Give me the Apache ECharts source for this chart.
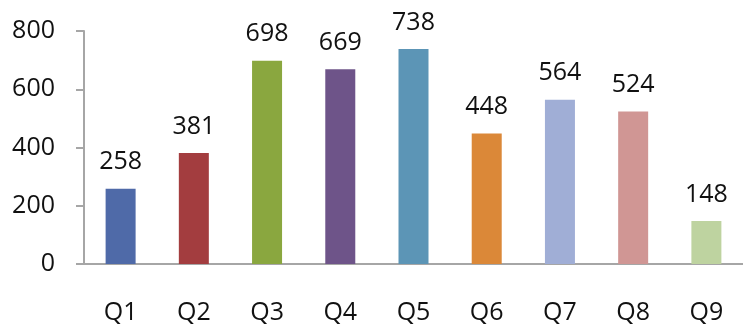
<!DOCTYPE html>
<html>
<head>
<meta charset="utf-8">
<script src="https://cdn.jsdelivr.net/npm/echarts@6/dist/echarts.min.js"></script>
<style>
  html, body { margin: 0; padding: 0; background: #fff; }
  #main { width: 743px; height: 327px; }
</style>
</head>
<body>
<div id="main"></div>
<script>
var categories = ['Q1', 'Q2', 'Q3', 'Q4', 'Q5', 'Q6', 'Q7', 'Q8', 'Q9'];
var values = [258, 381, 698, 669, 738, 448, 564, 524, 148];
var barColors = ['#4f6aa8', '#a33d3f', '#8aa73f', '#6e5489', '#5c95b6', '#db8838', '#a0aed6', '#d09694', '#bed3a0'];
var yTicks = [0, 200, 400, 600, 800];

var font = '"Open Sans", sans-serif';
var chart = echarts.init(document.getElementById('main'));
chart.setOption({
    animation: false,
    grid: { left: 84, right: -5, top: 31, bottom: 63 },
    xAxis: {
        type: 'category',
        data: categories,
        axisLine: { lineStyle: { color: '#a6a6a6', width: 2 } },
        axisTick: { length: 8, lineStyle: { color: '#a6a6a6', width: 2 } },
        axisLabel: { margin: 36, fontSize: 25, color: '#111', fontFamily: font }
    },
    yAxis: {
        type: 'value',
        min: yTicks[0],
        max: yTicks[yTicks.length - 1],
        interval: 200,
        splitLine: { show: false },
        axisLine: { show: true, lineStyle: { color: '#a6a6a6', width: 2 } },
        axisTick: { show: true, length: 8, lineStyle: { color: '#a6a6a6', width: 2 } },
        axisLabel: { margin: 29, fontSize: 25, color: '#111', fontFamily: font }
    },
    series: [{
        type: 'bar',
        barWidth: 30,
        data: values.map(function (v, i) {
            return { value: v, itemStyle: { color: barColors[i] } };
        }),
        label: {
            show: true,
            position: 'top',
            distance: 14,
            fontSize: 25,
            color: '#111',
            fontFamily: font
        }
    }]
});
</script>
</body>
</html>
